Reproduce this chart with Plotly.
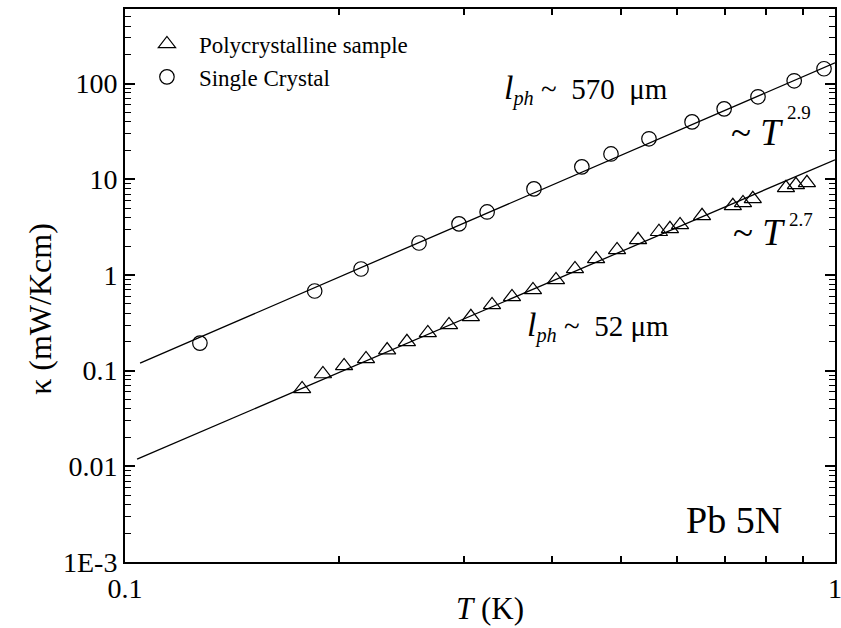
import plotly.graph_objects as go

# ---- data ----
T_single = [0.1275, 0.185, 0.215, 0.2595, 0.2954, 0.3236, 0.3767, 0.440, 0.4836,
            0.547, 0.629, 0.698, 0.779, 0.876, 0.965]
k_single = [0.194, 0.68, 1.155, 2.16, 3.42, 4.56, 7.94, 13.5, 18.4,
            26.5, 39.8, 54.5, 72.8, 107, 143]

T_poly = [0.1776, 0.190, 0.2035, 0.2185, 0.234, 0.2495, 0.267, 0.286, 0.307,
          0.3288, 0.3508, 0.3755, 0.4046, 0.4303, 0.4608, 0.4932, 0.528, 0.565,
          0.5855, 0.605, 0.6497, 0.718, 0.742, 0.766, 0.853, 0.881, 0.913]
k_poly = [0.0644, 0.0923, 0.112, 0.1325, 0.164, 0.200, 0.248, 0.301, 0.365,
          0.486, 0.590, 0.698, 0.888, 1.156, 1.47, 1.83, 2.33, 2.83,
          3.04, 3.34, 4.15, 5.28, 5.67, 6.25, 8.15, 8.76, 9.19]

fit_single_T = [0.105, 1.0]
fit_single_k = [0.12, 165]
fit_poly_T = [0.104, 1.0]
fit_poly_k = [0.0119, 16.0]

y_tickvals = [1e-3, 1e-2, 1e-1, 1, 10, 100]
y_ticktext = ["1E-3", "0.01", "0.1", "1", "10", "100"]
x_tickvals = [0.1, 1.0]
x_ticktext = ["0.1", "1"]
x_minorvals = [0.2, 0.3, 0.4, 0.5, 0.6, 0.7, 0.8, 0.9]

FONT = "Liberation Serif"

fig = go.Figure()
fig.add_trace(go.Scatter(x=fit_single_T, y=fit_single_k, mode="lines",
                         line=dict(color="black", width=1.3), showlegend=False,
                         hoverinfo="skip"))
fig.add_trace(go.Scatter(x=fit_poly_T, y=fit_poly_k, mode="lines",
                         line=dict(color="black", width=1.3), showlegend=False,
                         hoverinfo="skip"))
fig.add_trace(go.Scatter(x=T_poly, y=k_poly, mode="markers",
                         name="Polycrystalline sample",
                         marker=dict(symbol="triangle-up-open", size=15,
                                     color="black", line=dict(width=1.2))))
fig.add_trace(go.Scatter(x=T_single, y=k_single, mode="markers",
                         name="Single Crystal",
                         marker=dict(symbol="circle-open", size=14.5,
                                     color="black", line=dict(width=1.2))))

minor_y = [k * 10 ** d for d in range(-3, 3) for k in range(2, 10) if k * 10 ** d < 600]

fig.update_layout(
    width=841, height=628,
    margin=dict(l=125, r=6, t=9, b=66),
    paper_bgcolor="white", plot_bgcolor="white",
    font=dict(family=FONT, color="black", size=28),
    showlegend=True,
    legend=dict(x=0.014, y=0.9756, xanchor="left", yanchor="top",
                font=dict(size=23, family=FONT), itemwidth=54,
                bgcolor="rgba(0,0,0,0)", borderwidth=0, tracegroupgap=0),
    xaxis=dict(type="log", range=[-1, 0], tickmode="array",
               tickvals=x_tickvals, ticktext=x_ticktext,
               ticks="inside", ticklen=6, tickwidth=1.5, tickcolor="black",
               ticklabeloverflow="allow",
               minor=dict(tickmode="array", tickvals=x_minorvals, ticks="inside",
                          ticklen=6, tickwidth=1.5, tickcolor="black", showgrid=False),
               showline=True, linewidth=2, linecolor="black", mirror="allticks",
               showgrid=False, zeroline=False, automargin=False,
               tickfont=dict(size=28, family=FONT)),
    yaxis=dict(type="log", range=[-3, 2.78], tickmode="array",
               tickvals=y_tickvals, ticktext=y_ticktext,
               ticks="inside", ticklen=10, tickwidth=1.5, tickcolor="black",
               ticklabeloverflow="allow",
               minor=dict(tickmode="array", tickvals=minor_y, ticks="inside",
                          ticklen=6, tickwidth=1.2, tickcolor="black", showgrid=False),
               showline=True, linewidth=2, linecolor="black", mirror="allticks",
               showgrid=False, zeroline=False, automargin=False,
               tickfont=dict(size=28, family=FONT)),
)

ann = [
    # axis titles
    dict(x=0.514, y=-0.0841, text="<i>T</i> (K)", size=31, xa="center", angle=0),
    dict(x=-0.12, y=0.4575, text="κ (mW/Kcm)", size=32, xa="center", angle=-90),
    # labels
    dict(x=0.531, y=0.854,
         text="<span style='font-size:34px'><i>l</i></span><sub><i>ph</i></sub> ~\u00a0 570\u00a0 μm",
         size=29, xa="left", angle=0),
    dict(x=0.851, y=0.776, text="~ <i>T</i>", size=37, xa="left", angle=0),
    dict(x=0.930, y=0.812, text="2.9", size=19, xa="left", angle=0),
    dict(x=0.854, y=0.596, text="~ <i>T</i>", size=37, xa="left", angle=0),
    dict(x=0.933, y=0.620, text="2.7", size=19, xa="left", angle=0),
    dict(x=0.563, y=0.425,
         text="<span style='font-size:34px'><i>l</i></span><sub><i>ph</i></sub> ~\u00a0 52 μm",
         size=29, xa="left", angle=0),
    dict(x=0.788, y=0.076, text="Pb 5N", size=38, xa="left", angle=0),
]
for a in ann:
    fig.add_annotation(xref="paper", yref="paper", xanchor=a["xa"], yanchor="middle",
                       showarrow=False, x=a["x"], y=a["y"], text=a["text"],
                       textangle=a["angle"],
                       font=dict(family=FONT, color="black", size=a["size"]))

fig.write_html("out.html")
